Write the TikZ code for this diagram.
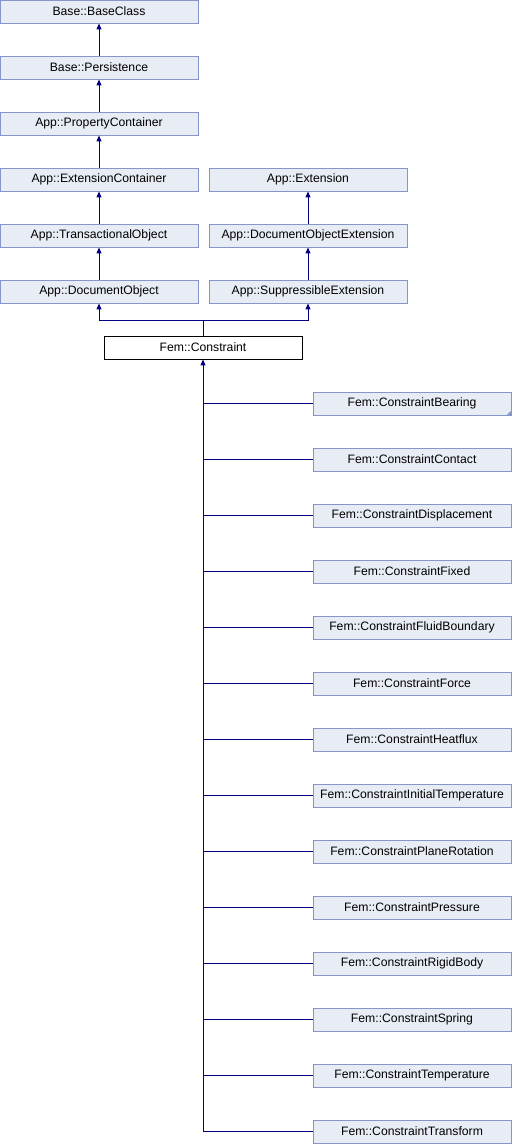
\documentclass[tikz,border=0pt]{standalone}
\usepackage{fontspec}
\setmainfont{Liberation Sans}
\usetikzlibrary{arrows.meta}
\definecolor{clsfill}{HTML}{E8ECF5}
\definecolor{clsline}{HTML}{8497C8}
\definecolor{edgeblue}{HTML}{000080}

\begin{document}
\begin{tikzpicture}[x=1pt,y=-1pt,>={Triangle[width=5pt,length=6pt]},
  cls/.style={draw=clsline,fill=clsfill,line width=0.9pt,minimum width=198pt,
    minimum height=23pt,inner sep=0pt,font=\fontsize{12.2}{14}\selectfont},
  focus/.style={cls,draw=black,fill=white},
  inh/.style={draw=edgeblue,line width=1pt,->},
  link/.style={draw=edgeblue,line width=1pt}]
  \useasboundingbox (0,0) rectangle (512,1144);
  % left column
  \node[cls] (baseclass) at (99,11.5) {Base::BaseClass};
  \node[cls] (persist) at (99,67.5) {Base::Persistence};
  \node[cls] (propcont) at (99,123.5) {App::PropertyContainer};
  \node[cls] (extcont) at (99,179.5) {App::ExtensionContainer};
  \node[cls] (transobj) at (99,235.5) {App::TransactionalObject};
  \node[cls] (docobj) at (99,291.5) {App::DocumentObject};
  % right column
  \node[cls] (ext) at (308,179.5) {App::Extension};
  \node[cls] (docobjext) at (308,235.5) {App::DocumentObjectExtension};
  \node[cls] (suppext) at (308,291.5) {App::SuppressibleExtension};
  % this class
  \node[focus] (constraint) at (203,347.5) {Fem::Constraint};
  % base class arrows
  \draw[inh] (persist) -- (baseclass);
  \draw[inh] (propcont) -- (persist);
  \draw[inh] (extcont) -- (propcont);
  \draw[inh] (transobj) -- (extcont);
  \draw[inh] (docobj) -- (transobj);
  \draw[inh] (docobjext) -- (ext);
  \draw[inh] (suppext) -- (docobjext);
  \coordinate (junc) at (203,320);
  \draw[link] (constraint.north) -- (junc);
  \draw[inh] (junc) -| (docobj.south);
  \draw[inh] (junc) -| (suppext.south);
  % derived classes
  \foreach \name [count=\i] in {Bearing,Contact,Displacement,Fixed,FluidBoundary,
      Force,Heatflux,InitialTemperature,PlaneRotation,Pressure,RigidBody,Spring,
      Temperature,Transform}{
    \node[cls] (c\i) at (412,{403.5+56*(\i-1)}) {Fem::Constraint\name};
    \draw[link] (constraint.south |- c\i.west) -- (c\i.west);
  }
  \draw[inh] (constraint.south |- c14.west) -- (constraint.south);
  \fill[clsline] (c1.south east) -- ++(-5,0) -- ++(5,-5) -- cycle;
\end{tikzpicture}
\end{document}
